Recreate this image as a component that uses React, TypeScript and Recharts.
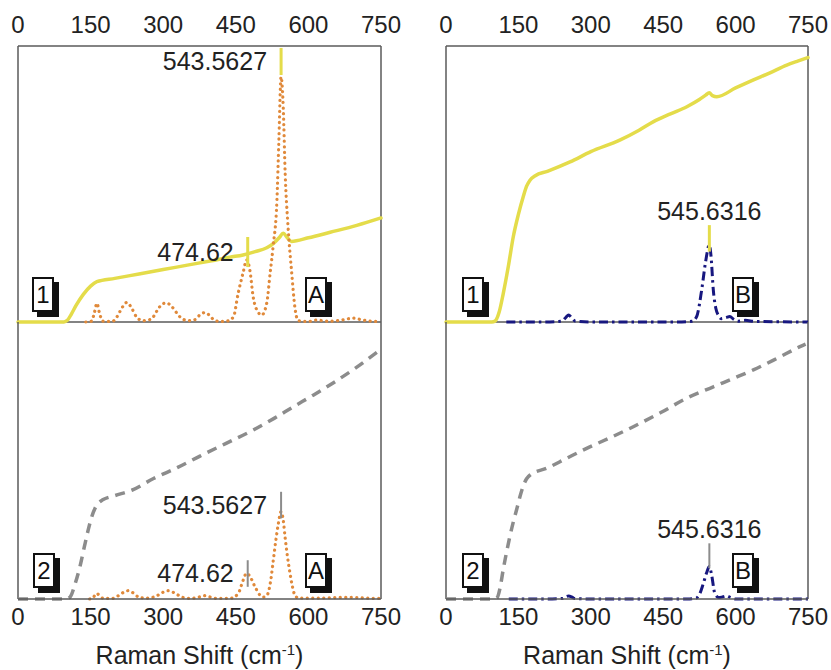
import React from "react"
import { LineChart, Line, XAxis, YAxis, ReferenceLine } from "recharts"

const FONT = '"Liberation Sans", Arial, Helvetica, sans-serif'
const TICKS = [0, 150, 300, 450, 600, 750]

// [Raman shift, intensity] (intensity 0-100 per sub-plot)
const A1_SOLID: [number, number][] = [
  [0, 0], [95, 0], [102, 0.6], [110, 2.8], [120, 6], [135, 10], [150, 13], [163, 14.6],
  [200, 15.8], [250, 17.4], [300, 19], [350, 20.6], [400, 22.2], [438, 23.5], [465, 24.3],
  [490, 25.5], [514, 26.9], [528, 28.5], [540, 30.6], [548, 32.2], [556, 30.6], [565, 29.2],
  [600, 30.5], [645, 32.5], [700, 35], [750, 37.7],
]
const A1_DOTTED: [number, number][] = [
  [140, 0], [152, 0.3], [158, 3.5], [163, 6.8], [168, 3.5], [175, 0.3], [195, 0.2], [205, 2],
  [215, 5.2], [225, 7.1], [235, 5], [245, 1.8], [258, 0.5], [275, 1], [287, 4], [298, 6.5],
  [307, 6.9], [318, 5.5], [335, 1.8], [350, 0.5], [365, 0.8], [376, 2.6], [386, 3.4], [396, 2.4],
  [406, 0.6], [420, 0.2], [433, 0.4], [445, 1.8], [455, 10.5], [465, 17.8], [472.5, 22.5],
  [479, 18.8], [486, 9], [496, 3.6], [503.5, 2.5], [514, 6.9], [521, 17.8], [527, 27.2],
  [535, 44.2], [539, 65.9], [543.5, 88.8], [548, 77.9], [552, 54], [558, 34.4], [565.5, 17.8],
  [572, 5.4], [579, 0.5], [600, 0.2], [617, 0.7], [640, 0.3], [665, 0.6], [680, 1.1], [693, 1.4],
  [710, 0.8], [730, 0.3], [750, 0.2],
]
const A2_DASHED: [number, number][] = [
  [0, 0], [100, 0], [108, 0.8], [118, 5.5], [128, 11.7], [137, 18.8], [145, 24.9], [152, 29.5],
  [159, 32.7], [166, 34.6], [175, 35.8], [200, 37.3], [238, 39.5], [279, 43.4], [330, 47.5],
  [376, 51.6], [430, 56.2], [486, 61], [530, 65.3], [568, 69.3], [610, 73.6], [651, 78],
  [700, 83.7], [748, 89.9],
]
const A2_DOTTED: [number, number][] = [
  [148, 0], [155, 0.4], [160, 1.7], [163, 2], [167, 1.5], [175, 0.3], [195, 0.2], [210, 1.5],
  [220, 2.6], [228, 3], [238, 2.2], [250, 0.6], [265, 0.3], [285, 1], [298, 2.3], [310, 3],
  [322, 2.3], [340, 0.6], [355, 0.2], [370, 0.5], [380, 1], [386, 1.2], [395, 0.8], [410, 0.2],
  [440, 0.3], [455, 2], [465.5, 6.9], [472, 9.3], [478, 8.5], [489.7, 4.4], [500, 1.4],
  [507, 0.7], [515, 1.5], [522, 6.5], [527.5, 14], [533, 21.5], [538, 27.3], [543.5, 31.5],
  [548, 28.5], [551.7, 22.5], [557, 15], [562, 9.3], [567, 4.5], [572, 1.4], [580, 0.3],
  [620, 0.3], [650, 0.5], [690, 0.6], [720, 0.3], [750, 0.2],
]
const B1_SOLID: [number, number][] = [
  [0, 0], [95, 0], [101.5, 0.3], [110, 3.5], [118.7, 10.4], [129, 20], [139.4, 30.9], [150, 39],
  [160, 45.4], [167, 49.2], [174, 51.4], [185, 53], [210, 54.6], [257, 58], [300, 61.7],
  [360, 65.9], [400, 69.5], [430, 72.6], [465, 75.4], [499, 78], [525, 80.6], [538, 82.2],
  [545.5, 83.1], [552, 82], [561, 81.6], [600, 84.8], [637, 87.7], [670, 90.2], [706, 93.1],
  [730, 94.6], [750, 95.8],
]
const B1_DASHDOT: [number, number][] = [
  [125, 0], [200, 0], [240, 0.3], [248, 1.6], [254, 2.5], [260, 1.6], [268, 0.3], [300, 0],
  [400, 0], [480, 0], [510, 0.3], [519.4, 2], [529.7, 11.6], [538, 22], [545.5, 27.9], [549, 24],
  [553.8, 11.6], [559, 5], [564, 2.5], [570, 1.2], [580, 1.6], [588, 2], [596, 1], [605, 0.3],
  [620, 0.6], [640, 0.2], [750, 0],
]
const B2_DASHED: [number, number][] = [
  [0, 0], [100, 0], [106, 0.5], [112, 4], [118.7, 10.8], [125, 16.5], [132.6, 22.8], [140, 28.2],
  [146.5, 32.4], [153, 36.8], [160, 40.8], [167, 43.4], [176, 45], [208.6, 47.2], [250, 50.8],
  [291.5, 54.4], [340, 58.2], [388, 62.2], [445, 67.3], [498.7, 72.5], [553.8, 76.6],
  [595, 79.6], [636.7, 82.7], [685, 86.8], [733.4, 91.1], [745, 92],
]
const B2_DASHDOT: [number, number][] = [
  [130, 0], [200, 0], [242, 0.2], [248, 0.8], [254, 1.1], [260, 0.8], [266, 0.2], [300, 0],
  [500, 0], [518, 0.3], [526, 2], [533, 5.5], [540, 9.5], [545.5, 11.7], [550, 9], [557, 2],
  [565, 0.5], [574, 0.8], [581.5, 1.1], [589, 0.6], [600, 0], [750, 0],
]

// peak markers: position, tick from / to, label
const A1_MARKS = [
  { at: 474.62, lo: 19.9, hi: 30.8, text: "474.62" },
  { at: 543.5627, lo: 89.5, hi: 99.3, text: "543.5627" },
]
const A2_MARKS = [
  { at: 474.62, lo: 4.4, hi: 14, text: "474.62" },
  { at: 543.5627, lo: 29.1, hi: 38.7, text: "543.5627" },
]
const B1_MARKS = [{ at: 545.6316, lo: 25.5, hi: 35.1, text: "545.6316" }]
const B2_MARKS = [{ at: 545.6316, lo: 11.1, hi: 20.1, text: "545.6316" }]

const YELLOW = "#e4dc4a"
const ORANGE = "#e0893a"
const GREY = "#8c8c8c"
const NAVY = "#17177f"
const FRAME = "#5a5a5a"

const STYLES = {
  solid: { stroke: YELLOW, strokeWidth: 3.5, dash: undefined, cap: "round" },
  dotted: { stroke: ORANGE, strokeWidth: 3.2, dash: "0.1 5.4", cap: "round" },
  dashed: { stroke: GREY, strokeWidth: 3.5, dash: "10 7", cap: "butt" },
  dashdot: { stroke: NAVY, strokeWidth: 3, dash: "9 4 2.5 4", cap: "butt" },
} as const

type Series = { pts: [number, number][]; kind: keyof typeof STYLES }
type Mark = { at: number; lo: number; hi: number; text: string }

const toData = (pts: [number, number][]) => pts.map(([x, y]) => ({ x, y }))

function Subplot({
  left,
  top,
  width,
  plotLeft,
  plotWidth,
  upper,
  series,
  marks,
  markColor,
  markWidth,
  labelPos,
}: {
  left: number
  top: number
  width: number
  plotLeft: number
  plotWidth: number
  upper: boolean
  series: Series[]
  marks: Mark[]
  markColor: string
  markWidth: number
  labelPos: "left" | "top"
}) {
  const height = upper ? 330 : 355
  const margin = upper
    ? { top: 0, right: width - plotLeft - plotWidth, bottom: 8, left: plotLeft }
    : { top: 8, right: width - plotLeft - plotWidth, bottom: 0, left: plotLeft }
  return (
    <div style={{ position: "absolute", left, top }}>
      <LineChart width={width} height={height} margin={margin}>
        <XAxis
          type="number"
          dataKey="x"
          domain={[0, 750]}
          ticks={TICKS}
          interval={0}
          orientation={upper ? "top" : "bottom"}
          height={upper ? 46 : 70}
          tickLine={false}
          tickSize={upper ? 6 : 4}
          tickMargin={upper ? 7 : 5}
          axisLine={{ stroke: FRAME, strokeWidth: 1.5 }}
          tick={{ fontSize: 24, fill: "#222", fontFamily: FONT }}
        />
        <YAxis type="number" domain={[0, 100]} hide />
        <ReferenceLine x={0} stroke={FRAME} strokeWidth={1.5} />
        <ReferenceLine x={750} stroke={FRAME} strokeWidth={1.5} />
        {upper && <ReferenceLine y={0} stroke={FRAME} strokeWidth={1.5} />}
        {series.map((s, i) => {
          const st = STYLES[s.kind]
          return (
            <Line
              key={i}
              data={toData(s.pts)}
              dataKey="y"
              type="monotone"
              stroke={st.stroke}
              strokeWidth={st.strokeWidth}
              strokeDasharray={st.dash}
              strokeLinecap={st.cap}
              dot={false}
              activeDot={false}
              isAnimationActive={false}
            />
          )
        })}
        {marks.map((m) => (
          <ReferenceLine
            key={m.text + m.at}
            segment={[
              { x: m.at, y: m.lo },
              { x: m.at, y: m.hi },
            ]}
            stroke={markColor}
            strokeWidth={markWidth}
            label={{
              value: m.text,
              position: labelPos,
              offset: labelPos === "left" ? 14 : 5,
              fontSize: 25,
              fill: "#222",
              fontFamily: FONT,
            }}
          />
        ))}
      </LineChart>
    </div>
  )
}

const BOXES = [
  { text: "1", left: 32, top: 277 },
  { text: "A", left: 305, top: 277 },
  { text: "2", left: 33, top: 553 },
  { text: "A", left: 305, top: 553 },
  { text: "1", left: 462, top: 277 },
  { text: "B", left: 732, top: 277 },
  { text: "2", left: 462, top: 553 },
  { text: "B", left: 732, top: 553 },
]

function Title({ center }: { center: number }) {
  return (
    <div
      style={{
        position: "absolute",
        left: center - 150,
        top: 640,
        width: 300,
        textAlign: "center",
        fontFamily: FONT,
        fontSize: 25,
        lineHeight: "30px",
        color: "#222",
        whiteSpace: "nowrap",
      }}
    >
      Raman Shift (cm
      <span style={{ fontSize: 15, verticalAlign: "9px", lineHeight: 0 }}>-1</span>)
    </div>
  )
}

export default function App() {
  return (
    <div
      style={{
        position: "absolute",
        left: 0,
        top: 0,
        width: 831,
        height: 670,
        overflow: "hidden",
        background: "#fff",
      }}
    >
      <Subplot
        left={0} top={0} width={415} plotLeft={18} plotWidth={363} upper
        series={[{ pts: A1_SOLID, kind: "solid" }, { pts: A1_DOTTED, kind: "dotted" }]}
        marks={A1_MARKS} markColor={YELLOW} markWidth={3} labelPos="left"
      />
      <Subplot
        left={0} top={314} width={415} plotLeft={18} plotWidth={363} upper={false}
        series={[{ pts: A2_DASHED, kind: "dashed" }, { pts: A2_DOTTED, kind: "dotted" }]}
        marks={A2_MARKS} markColor={GREY} markWidth={2} labelPos="left"
      />
      <Subplot
        left={430} top={0} width={400} plotLeft={16} plotWidth={362} upper
        series={[{ pts: B1_DASHDOT, kind: "dashdot" }, { pts: B1_SOLID, kind: "solid" }]}
        marks={B1_MARKS} markColor={YELLOW} markWidth={3} labelPos="top"
      />
      <Subplot
        left={430} top={314} width={400} plotLeft={16} plotWidth={362} upper={false}
        series={[{ pts: B2_DASHED, kind: "dashed" }, { pts: B2_DASHDOT, kind: "dashdot" }]}
        marks={B2_MARKS} markColor={GREY} markWidth={2} labelPos="top"
      />
      {BOXES.map((b, i) => (
        <div
          key={i}
          style={{
            position: "absolute",
            left: b.left,
            top: b.top,
            width: 22,
            height: 35,
            boxSizing: "border-box",
            border: "2px solid #111",
            background: "#fff",
            boxShadow: "5px 5px 0 #111",
            fontFamily: FONT,
            fontSize: 24,
            lineHeight: "31px",
            textAlign: "center",
            color: "#111",
          }}
        >
          {b.text}
        </div>
      ))}
      <Title center={199.5} />
      <Title center={627} />
    </div>
  )
}
